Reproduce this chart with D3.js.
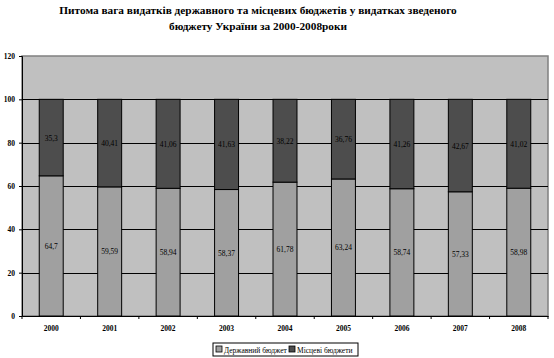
<!DOCTYPE html>
<html><head><meta charset="utf-8">
<script src="https://cdn.jsdelivr.net/npm/d3@7"></script>
<style>body{margin:0;background:#fff}svg{display:block}text{font-family:"Liberation Serif","Times New Roman",serif}</style>
</head><body><svg id="c" width="554" height="358"></svg>
<script>
const years = ["2000","2001","2002","2003","2004","2005","2006","2007","2008"];
const stateShare = [64.7, 59.59, 58.94, 58.37, 61.78, 63.24, 58.74, 57.33, 58.98];
const localShare = [35.3, 40.41, 41.06, 41.63, 38.22, 36.76, 41.26, 42.67, 41.02];
const seriesNames = ["Державний бюджет", "Місцеві бюджети"];
const yTicks = [0, 20, 40, 60, 80, 100, 120];
const titleLines = ["Питома вага видатків державного та місцевих бюджетів у видатках зведеного", "бюджету України за 2000-2008роки"];

const svg = d3.select("#c");
const L = 22, R = 548, T = 56, B = 316;
const x = d3.scaleBand().domain(years).range([L, R]).paddingInner(0.59).paddingOuter(0.295);
const y = d3.scaleLinear().domain([0, 120]).range([B, T]);
const colors = ["#a0a0a0", "#4d4d4d"];

// title
svg.append("g").selectAll("text").data(titleLines).join("text")
  .attr("x", 258).attr("y", (d, i) => 14 + i * 16)
  .attr("text-anchor", "middle").attr("font-size", 11.3).attr("font-weight", "bold").attr("fill", "#000").text(d => d);

// plot background
svg.append("rect").attr("x", L).attr("y", T).attr("width", R - L).attr("height", B - T)
  .attr("fill", "#c0c0c0").attr("stroke", "#808080").attr("stroke-width", 1.5);

// gridlines
svg.append("g").selectAll("line").data(yTicks.filter(t => t > 0 && t < 120)).join("line")
  .attr("x1", L).attr("x2", R).attr("y1", d => Math.round(y(d)) + 0.5).attr("y2", d => Math.round(y(d)) + 0.5)
  .attr("stroke", "#000").attr("stroke-width", 1);

// bars
const bottoms = [stateShare.map(() => 0), stateShare];
const tops = [stateShare, stateShare.map((v, i) => v + localShare[i])];
const vals = [stateShare, localShare];
[0, 1].forEach(s => {
  svg.append("g").selectAll("rect").data(years).join("rect")
    .attr("x", d => x(d)).attr("width", x.bandwidth())
    .attr("y", (d, i) => y(tops[s][i])).attr("height", (d, i) => y(bottoms[s][i]) - y(tops[s][i]))
    .attr("fill", colors[s]).attr("stroke", "#000").attr("stroke-width", 1);
  svg.append("g").selectAll("text").data(years).join("text")
    .attr("x", d => x(d) + x.bandwidth() / 2)
    .attr("y", (d, i) => y((tops[s][i] + bottoms[s][i]) / 2) + 3)
    .attr("text-anchor", "middle").attr("font-size", 7.5).attr("fill", "#000")
    .text((d, i) => String(vals[s][i]).replace(".", ","));
});

// y axis
const yAxis = svg.append("g").attr("transform", `translate(${L},0)`)
  .call(d3.axisLeft(y).tickValues(yTicks).tickSize(3).tickPadding(4));
yAxis.select(".domain").attr("stroke", "#000");
yAxis.selectAll("text").attr("font-size", 7.5).attr("font-weight", "bold").attr("fill", "#000").attr("font-family", "Liberation Serif");

// x axis
const xAxis = svg.append("g").attr("transform", `translate(0,${B})`)
  .call(d3.axisBottom(x).tickSize(0).tickPadding(10));
xAxis.select(".domain").attr("stroke", "#000");
xAxis.selectAll("text").attr("font-size", 7.5).attr("font-weight", "bold").attr("fill", "#000").attr("font-family", "Liberation Serif");
const step = x.step();
svg.append("g").selectAll("line").data(d3.range(years.length + 1)).join("line")
  .attr("x1", i => L + i * step).attr("x2", i => L + i * step).attr("y1", B).attr("y2", B + 3)
  .attr("stroke", "#000");

// legend
const lg = svg.append("g").attr("transform", "translate(213,343)");
lg.append("rect").attr("x", 0).attr("y", 0).attr("width", 145).attr("height", 13)
  .attr("fill", "#fff").attr("stroke", "#000").attr("stroke-width", 1);
const items = lg.selectAll("g").data(seriesNames).join("g")
  .attr("transform", (d, i) => `translate(${i === 0 ? 3 : 76},3)`);
items.append("rect").attr("width", 6).attr("height", 6).attr("fill", (d, i) => colors[i]).attr("stroke", "#000").attr("stroke-width", 0.8);
items.append("text").attr("x", 8).attr("y", 6.5).attr("font-size", 7.5).attr("fill", "#000").text(d => d);
</script></body></html>
